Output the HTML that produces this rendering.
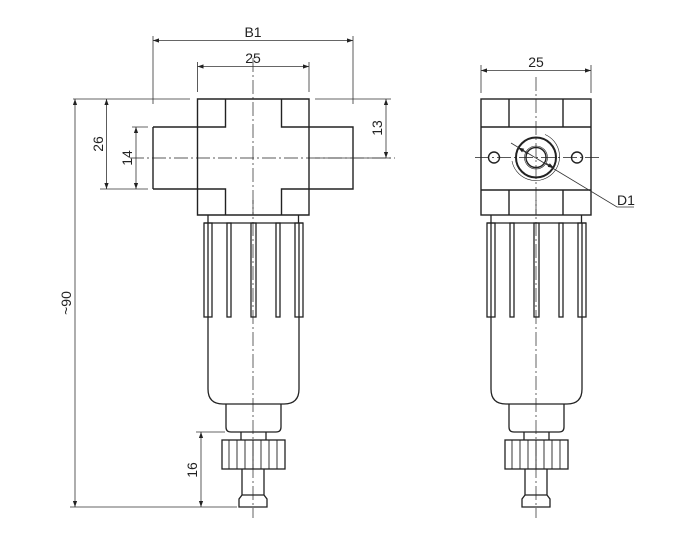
<!DOCTYPE html>
<html><head><meta charset="utf-8"><style>
html,body{margin:0;padding:0;background:#fff}
svg{display:block}
text{font-family:"Liberation Sans",sans-serif;font-size:14px;fill:#222}
</style></head><body>
<svg width="686" height="548" viewBox="0 0 686 548" xmlns="http://www.w3.org/2000/svg">
<defs>
<marker id="a" viewBox="0 0 10 10" refX="10" refY="5" markerWidth="9" markerHeight="6" orient="auto-start-reverse" markerUnits="userSpaceOnUse"><path d="M0,1.5 L10,5 L0,8.5z" fill="#222"/></marker>
<g id="low" fill="none" stroke="#222" stroke-width="1.3">
  <path d="M208,215 V223 M298.5,215 V223"/>
  <path d="M204,223 H303"/>
  <rect x="204" y="223" width="8" height="94"/>
  <rect x="227" y="223" width="4" height="94"/>
  <rect x="251" y="223" width="5" height="94"/>
  <rect x="276" y="223" width="4" height="94"/>
  <rect x="295" y="223" width="8" height="94"/>
  <path d="M208,223 V389 Q208,404 223,404 H284 Q299,404 299,389 V223"/>
  <path d="M226,404 V427 Q226,432 231,432 H276 Q281,432 281,427 V404"/>
  <path d="M241,432 V440 M266,432 V440"/>
  <rect x="222" y="440" width="63" height="29"/>
  <path d="M229,440V469 M237,440V469 M245,440V469 M253,440V469 M261,440V469 M269,440V469 M277,440V469" stroke-width="0.9"/>
  <path d="M242,469 V495 L239,499 V507 H267 V499 L264,495 V469 M242,495 H264"/>
  <path d="M253,200 V518" stroke-width="0.7" stroke-dasharray="14,3,2,3"/>
</g>
</defs>

<g fill="none" stroke="#222">
<g stroke-width="1.4">
  <path d="M197.5,99 H309 V215 H197.5 Z"/>
  <path d="M153,127 H197.5 M153,189 H197.5 M153,127 V189 M309,127 H353 V189 H309"/>
  <path d="M225.5,99 V127 H197.5 M281.5,99 V127 H309 M197.5,189 H225.5 V215 M309,189 H281.5 V215"/>
</g>
<path d="M253,58 V215 M130,158 H395" stroke-width="0.7" stroke-dasharray="14,3,2,3"/>
<use href="#low"/>

<g stroke-width="1.4">
  <rect x="481" y="99" width="110" height="116"/>
  <path d="M481,127 H591 M481,190 H591 M509,99 V127 M563,99 V127 M509,190 V215 M563,190 V215"/>
  <circle cx="536" cy="157.5" r="20" stroke-width="2"/>
  <circle cx="536" cy="157.5" r="10"/>
  <circle cx="494" cy="157.5" r="5.5"/>
  <circle cx="577" cy="157.5" r="5.5"/>
</g>
<circle cx="536" cy="157.5" r="11.5" stroke-width="0.6"/>
<path d="M545,134.5 A24,24 0 1 1 512,161" stroke-width="0.6"/>
<path d="M536,77 V215 M475,157.5 H600" stroke-width="0.7" stroke-dasharray="14,3,2,3"/>
<use href="#low" transform="translate(283,0)"/>

<g stroke-width="0.8" stroke="#333">
  <path d="M153,36 V104 M353,36 V104 M197.5,62 V92 M309,62 V92"/>
  <path d="M153,40.5 H353" marker-start="url(#a)" marker-end="url(#a)"/>
  <path d="M197.5,66.5 H309" marker-start="url(#a)" marker-end="url(#a)"/>
  <path d="M73,99 H190 M100,189 H148 M132,127 H148 M315,99 H391 M315,158 H391"/>
  <path d="M75,99 V507" marker-start="url(#a)" marker-end="url(#a)"/>
  <path d="M106.5,99 V189" marker-start="url(#a)" marker-end="url(#a)"/>
  <path d="M136,127 V189" marker-start="url(#a)" marker-end="url(#a)"/>
  <path d="M386,99 V158" marker-start="url(#a)" marker-end="url(#a)"/>
  <path d="M70,507 H237 M196,432 H225"/>
  <path d="M201,432 V507" marker-start="url(#a)" marker-end="url(#a)"/>
  <path d="M481,65 V93 M591,65 V93"/>
  <path d="M481,70.5 H591" marker-start="url(#a)" marker-end="url(#a)"/>
  <path d="M511,143 L617,207 H634"/>
  <path d="M518,147.5 L528,153.5" marker-start="url(#a)" stroke-width="1.4"/>
  <path d="M554,168 L546,163.5" marker-start="url(#a)" stroke-width="1.4"/>
</g>
</g>

<text x="253" y="37" text-anchor="middle">B1</text>
<text x="253" y="63" text-anchor="middle">25</text>
<text x="536" y="67" text-anchor="middle">25</text>
<text x="626" y="205" text-anchor="middle">D1</text>
<text transform="translate(103,144) rotate(-90)" text-anchor="middle">26</text>
<text transform="translate(132,158) rotate(-90)" text-anchor="middle">14</text>
<text transform="translate(382,128) rotate(-90)" text-anchor="middle">13</text>
<text transform="translate(71,303) rotate(-90)" text-anchor="middle">~90</text>
<text transform="translate(197,470) rotate(-90)" text-anchor="middle">16</text>
</svg>
</body></html>
